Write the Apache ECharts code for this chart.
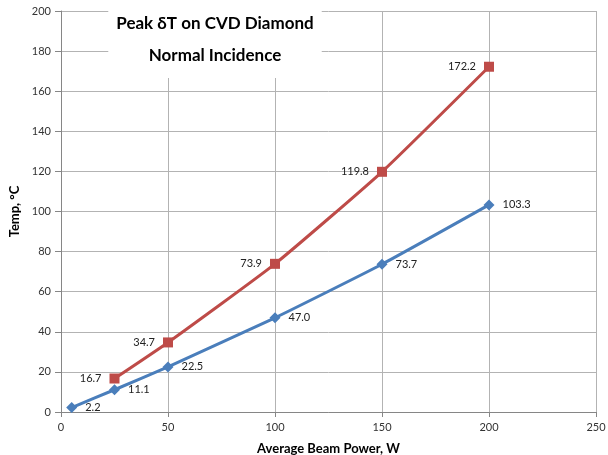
<!DOCTYPE html>
<html>
<head>
<meta charset="utf-8">
<script src="https://cdn.jsdelivr.net/npm/echarts@6/dist/echarts.min.js"></script>
<style>
  html, body { margin: 0; padding: 0; background: #fff; }
  #chart { width: 608px; height: 455px; }
</style>
</head>
<body>
<div id="chart"></div>
<script>
  // data
  const powerBlue = [5, 25, 50, 100, 150, 200];
  const tempBlue = [2.2, 11.1, 22.5, 47.0, 73.7, 103.3];
  const powerRed = [25, 50, 100, 150, 200];
  const tempRed = [16.7, 34.7, 73.9, 119.8, 172.2];

  const font = 'Lato, "Open Sans", sans-serif';

  const chart = echarts.init(document.getElementById('chart'));
  chart.setOption({
    animation: false,
    textStyle: { fontFamily: font },
    title: {
      text: 'Peak δT on CVD Diamond\nNormal Incidence',
      left: 207,
      top: 4,
      textAlign: 'center',
      backgroundColor: '#fff',
      padding: [4, 8, 6, 8],
      textStyle: {
        fontFamily: font,
        fontSize: 17,
        fontWeight: 'bold',
        color: '#000',
        lineHeight: 32
      }
    },
    grid: { left: 61, right: 12, top: 11, bottom: 43, outerBoundsMode: 'none' },
    xAxis: {
      type: 'value',
      min: 0,
      max: 250,
      interval: 50,
      name: 'Average Beam Power, W',
      nameLocation: 'middle',
      nameGap: 30,
      nameTextStyle: { fontFamily: font, fontSize: 13, fontWeight: 'bold', color: '#000' },
      axisLine: { show: true, lineStyle: { color: '#868686', width: 1 } },
      axisTick: { show: true, length: 5, lineStyle: { color: '#868686' } },
      axisLabel: { fontSize: 11, color: '#333', margin: 10 },
      splitLine: { show: true, lineStyle: { color: '#b3b3b3', width: 1 } }
    },
    yAxis: {
      type: 'value',
      min: 0,
      max: 200,
      interval: 20,
      name: 'Temp, °C',
      nameLocation: 'middle',
      nameGap: 36,
      nameTextStyle: { fontFamily: font, fontSize: 13, fontWeight: 'bold', color: '#000' },
      axisLine: { show: true, lineStyle: { color: '#868686', width: 1 } },
      axisTick: { show: true, length: 6, lineStyle: { color: '#868686' } },
      axisLabel: { fontSize: 11, color: '#333', margin: 10 },
      splitLine: { show: true, lineStyle: { color: '#b3b3b3', width: 1 } }
    },
    series: [
      {
        name: 'blue',
        type: 'line',
        smooth: 0.15,
        data: powerBlue.map((x, i) => [x, tempBlue[i]]),
        symbol: 'diamond',
        symbolSize: 11,
        itemStyle: { color: '#4a7ebb' },
        lineStyle: { color: '#4a7ebb', width: 3 },
        label: {
          show: true,
          position: 'right',
          distance: 8,
          fontSize: 11,
          color: '#222',
          formatter: p => tempBlue[p.dataIndex].toFixed(1)
        },
        z: 3
      },
      {
        name: 'red',
        type: 'line',
        smooth: 0.15,
        data: powerRed.map((x, i) => [x, tempRed[i]]),
        symbol: 'rect',
        symbolSize: 10,
        itemStyle: { color: '#be4b48' },
        lineStyle: { color: '#be4b48', width: 3 },
        label: {
          show: true,
          position: 'left',
          distance: 8,
          fontSize: 11,
          color: '#222',
          formatter: p => tempRed[p.dataIndex].toFixed(1)
        },
        z: 3
      }
    ]
  });
</script>
</body>
</html>
